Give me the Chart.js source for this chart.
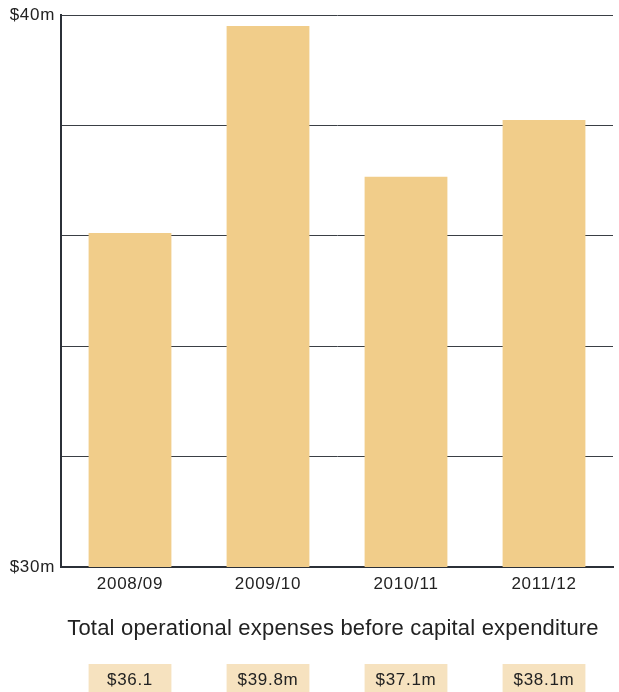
<!DOCTYPE html>
<html>
<head>
<meta charset="utf-8">
<script src="https://cdn.jsdelivr.net/npm/chart.js@4"></script>
<style>
  html, body { margin: 0; padding: 0; background: #fff; }
  #wrap { width: 619px; height: 692px; }
</style>
</head>
<body>
<div id="wrap"><canvas id="myChart" width="619" height="692"></canvas></div>
<script>
const years = ["2008/09", "2009/10", "2010/11", "2011/12"];
const expenses = [36.05, 39.8, 37.07, 38.1];
const valueLabels = ["$36.1", "$39.8m", "$37.1m", "$38.1m"];
const yTicks = { 30: "$30m", 40: "$40m" };
const chartTitle = "Total operational expenses before capital expenditure";

const FONT = "'Liberation Sans', Arial, sans-serif";

// a little letter spacing like the original artwork
const spacing = {
  id: "spacing",
  beforeUpdate(chart) { chart.ctx.letterSpacing = "0.7px"; },
  beforeDraw(chart) { chart.ctx.letterSpacing = "0.7px"; },
};

// title and value boxes under the chart, placed from the x scale
const footer = {
  id: "footer",
  afterDraw(chart) {
    const ctx = chart.ctx;
    const area = chart.chartArea;
    const x = chart.scales.x;
    const meta = chart.getDatasetMeta(0);
    ctx.save();
    ctx.fillStyle = "#222";
    ctx.letterSpacing = "0.2px";
    ctx.font = "22px " + FONT;
    ctx.textAlign = "center";
    ctx.textBaseline = "alphabetic";
    ctx.fillText(chartTitle, (area.left + area.right) / 2 - 4, 635);

    ctx.letterSpacing = "0.7px";
    ctx.font = "17px " + FONT;
    meta.data.forEach((bar, i) => {
      const w = bar.width;
      const cx = x.getPixelForValue(i);
      ctx.fillStyle = "#F6E2BF";
      ctx.fillRect(cx - w / 2, 664, w, 28);
      ctx.fillStyle = "#222";
      ctx.fillText(valueLabels[i], cx, 685);
    });
    ctx.restore();
  },
};

const ctx = document.getElementById("myChart").getContext("2d");
const myChart = new Chart(ctx, {
  type: "bar",
  data: {
    labels: years,
    datasets: [
      {
        label: "Expenses",
        data: expenses,
        backgroundColor: "#F1CD8A",
        borderWidth: 0,
        categoryPercentage: 1,
        barPercentage: 0.6,
      },
    ],
  },
  options: {
    responsive: false,
    animation: false,
    layout: { padding: { left: 0, right: 6, top: 15, bottom: 0 } },
    plugins: {
      legend: { display: false },
      tooltip: { enabled: false },
    },
    scales: {
      x: {
        grid: { display: false },
        border: { display: true, color: "#2b3038", width: 2 },
        ticks: { color: "#222", font: { family: FONT, size: 17 }, padding: -1 },
        afterFit: (scale) => { scale.height = 125; },
      },
      y: {
        min: 30,
        max: 40,
        grid: { color: "#3a3f45", lineWidth: 1, drawTicks: false },
        border: { display: true, color: "#2b3038", width: 2 },
        ticks: {
          stepSize: 2,
          autoSkip: false,
          color: "#222",
          padding: 6,
          font: { family: FONT, size: 17, lineHeight: 1 },
          callback: (v) => yTicks[v] || "",
        },
        afterBuildTicks: (scale) => {
          scale.ticks = [30, 32, 34, 36, 38, 40].map((v) => ({ value: v }));
        },
        afterFit: (scale) => { scale.width = 61; },
      },
    },
  },
  plugins: [spacing, footer],
});
</script>
</body>
</html>
